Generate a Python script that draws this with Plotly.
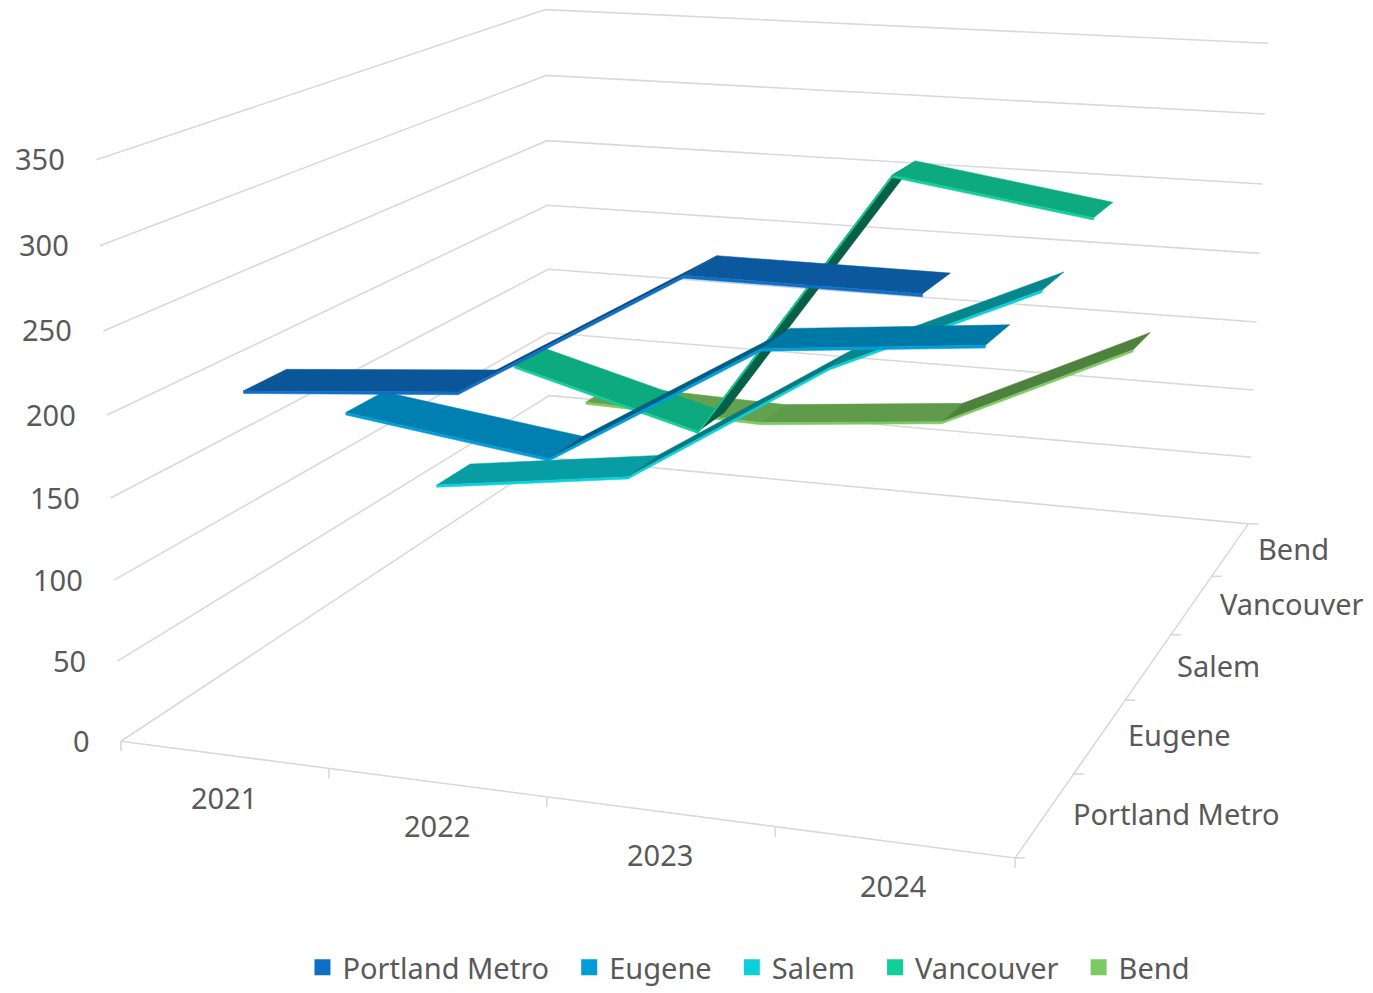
import numpy as np
import plotly.graph_objects as go

WIDTH, HEIGHT = 1373, 993
categories = ["2021", "2022", "2023", "2024"]
series_names = ["Portland Metro", "Eugene", "Salem", "Vancouver", "Bend"]
portland = [210.7, 221.4, 298.9, 298.5]
eugene = [164.7, 147.3, 227.1, 239.8]
salem = [81.8, 100.2, 184.3, 244.4]
vancouver = [132.4, 97.0, 284.2, 264.4]
bend = [73.6, 69.8, 82.3, 145.8]
series_values = [portland, eugene, salem, vancouver, bend]
z_ticks = [0, 50, 100, 150, 200, 250, 300, 350]
colors = ["#0F6FC6", "#009DD9", "#0BD0D9", "#10CF9B", "#7CCA62"]

GRID = "#D9D9D9"
TEXT = "#595959"
FONT = "Noto Sans"
FS = 29

# Perspective camera of the 3-D chart box, applied to every value
CAM = np.array([
    [200.5056, 120.0503, -28.76138, 120.9005],
    [9.7137, -28.17737, -588.1643, 741.2188],
    [-0.02269192, 0.06219227, -0.04168944, 1.0],
])
HALF_DEPTH = 0.2066
THICK = 1.6
ZMAX = 350.0


def project(cat_pos, ser_pos, value):
    h = np.array([cat_pos, ser_pos, value / ZMAX, 1.0])
    w = CAM[2] @ h
    return float(CAM[0] @ h / w), float(CAM[1] @ h / w)


def polyline(points):
    xy = [project(*p) for p in points]
    return [a for a, _ in xy], [b for _, b in xy]


def shade(color, k):
    r, g, b = [int(color[i:i + 2], 16) for i in (1, 3, 5)]
    return f"rgb({int(r * k)},{int(g * k)},{int(b * k)})"


def top_factor(dv):
    if dv < -10:
        return 0.82
    return max(0.46, 0.8 - 0.0025 * max(dv, 0))


fig = go.Figure()

# legend entries (non-breaking spaces give the wider gap between entries)
for i, (name, col) in enumerate(zip(series_names, colors)):
    pad = "\u00a0\u00a0" if i < len(series_names) - 1 else ""
    fig.add_trace(go.Scatter(x=[None], y=[None], mode="markers", name=name + pad,
                             marker=dict(symbol="square", size=20, color=col)))


def line_trace(points, width=1.6):
    x, y = polyline(points)
    fig.add_trace(go.Scatter(x=x, y=y, mode="lines", showlegend=False, hoverinfo="skip",
                             line=dict(color=GRID, width=width)))


n_cat, n_ser = len(categories), len(series_names)

# walls: left wall then back wall at each value tick
for v in z_ticks:
    line_trace([(0, 0, v), (0, n_ser, v), (n_cat, n_ser, v)])
# floor edges
line_trace([(0, 0, 0), (n_cat, 0, 0), (n_cat, n_ser, 0)])

# tick marks
TICK = 10
for i in range(n_cat + 1):
    x, y = project(i, 0, 0)
    fig.add_trace(go.Scatter(x=[x, x], y=[y, y + TICK], mode="lines", showlegend=False,
                             hoverinfo="skip", line=dict(color=GRID, width=1.6)))
for j in range(n_ser + 1):
    x, y = project(n_cat, j, 0)
    fig.add_trace(go.Scatter(x=[x, x + TICK], y=[y, y], mode="lines", showlegend=False,
                             hoverinfo="skip", line=dict(color=GRID, width=1.6)))


def poly(points, fill):
    x, y = polyline(points + points[:1])
    fig.add_trace(go.Scatter(x=x, y=y, mode="lines", fill="toself", fillcolor=fill,
                             showlegend=False, hoverinfo="skip",
                             line=dict(color=fill, width=0.5)))


# ribbons back to front
for s in range(n_ser - 1, -1, -1):
    vals = series_values[s]
    col = colors[s]
    yf, yb = s + 0.5 - HALF_DEPTH, s + 0.5 + HALF_DEPTH
    for c in range(n_cat - 1):
        x1, x2 = c + 0.5, c + 1.5
        v1, v2 = vals[c], vals[c + 1]
        poly([(x1, yf, v1), (x2, yf, v2), (x2, yb, v2), (x1, yb, v1)],
             shade(col, top_factor(v2 - v1)))
    for c in range(n_cat - 1):
        x1, x2 = c + 0.5, c + 1.5
        v1, v2 = vals[c], vals[c + 1]
        poly([(x1, yf, v1), (x2, yf, v2), (x2, yf, v2 - THICK), (x1, yf, v1 - THICK)], col)

# axis labels
ann = []
for v in z_ticks:
    x, y = project(0, 0, v)
    ann.append(dict(x=x - 30, y=y - 1, text=str(v), xanchor="right", yanchor="middle"))
for i, lab in enumerate(categories):
    x, y = project(i + 0.5, 0, 0)
    ann.append(dict(x=x, y=y + 43, text=lab, xanchor="center", yanchor="middle"))
for j, lab in enumerate(series_names):
    x, y = project(n_cat, j + 0.5, 0)
    ann.append(dict(x=x + 27, y=y - 1, text=lab, xanchor="left", yanchor="middle"))
for a in ann:
    a.update(xref="x", yref="y", showarrow=False, borderpad=0,
             font=dict(family=FONT, size=FS, color=TEXT))

fig.update_layout(
    width=WIDTH, height=HEIGHT, margin=dict(l=0, r=0, t=0, b=0),
    paper_bgcolor="white", plot_bgcolor="white",
    xaxis=dict(visible=False, range=[0, WIDTH], fixedrange=True),
    yaxis=dict(visible=False, range=[HEIGHT, 0], fixedrange=True),
    annotations=ann,
    showlegend=True,
    legend=dict(orientation="h", x=0.5455, xanchor="center", y=0, yanchor="bottom",
                font=dict(family=FONT, size=FS, color=TEXT), bgcolor="rgba(0,0,0,0)",
                itemwidth=30),
)
fig.write_html("out.html", config={"displayModeBar": False},
               post_script="document.body.style.margin='0';")
